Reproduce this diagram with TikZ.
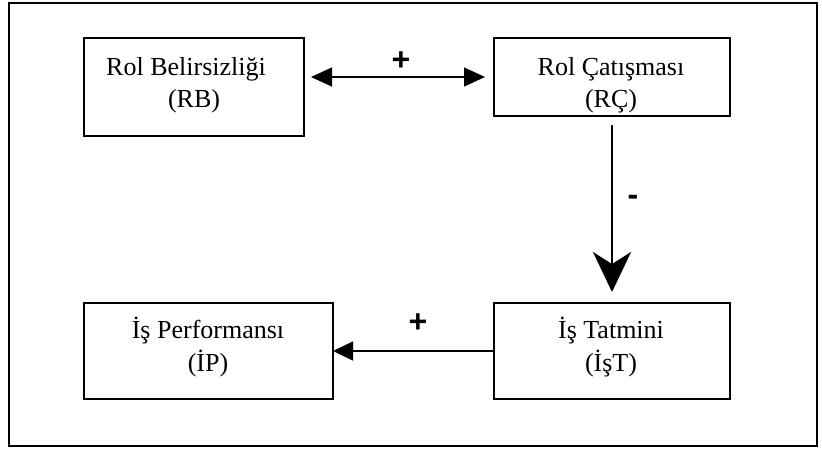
\documentclass[tikz,border=0pt]{standalone}
\usepackage{fontspec}
\setmainfont{Liberation Serif}
\newfontfamily\signfont{Liberation Sans}
\usetikzlibrary{arrows.meta}
\tikzset{
  boxnode/.style={draw, line width=1.3pt, rectangle, inner sep=0pt, outer sep=0pt},
  txt/.style={anchor=base, font=\fontsize{26}{30}\selectfont, inner sep=0pt},
  sign/.style={font=\signfont\bfseries\fontsize{32}{36}\selectfont, inner sep=0pt},
  conn/.style={line width=1.3pt}
}
\begin{document}
\begin{tikzpicture}[x=1pt,y=-1pt]
\useasboundingbox (0,0) rectangle (822,448);
\draw[line width=1.3pt] (9,3) rectangle (817,446);
% boxes
\node[boxnode, minimum width=220pt, minimum height=98pt] (rb) at (194,87) {};
\node[boxnode, minimum width=236pt, minimum height=78pt] (rc) at (612,77) {};
\node[boxnode, minimum width=249pt, minimum height=96pt] (ip) at (208.5,351) {};
\node[boxnode, minimum width=236pt, minimum height=96pt] (ist) at (612,351) {};
% texts
\node[txt] (rb1) at (186,75) {Rol Belirsizliği};
\node[txt] (rb2) at (194,107) {(RB)};
\node[txt] (rc1) at (611,75) {Rol Çatışması};
\node[txt] (rc2) at (611,107) {(RÇ)};
\node[txt] (ip1) at (208,338) {İş Performansı};
\node[txt] (ip2) at (208,371) {(İP)};
\node[txt] (ist1) at (611,338) {İş Tatmini};
\node[txt] (ist2) at (611,371) {(İşT)};
% connectors
\draw[conn, {Triangle[length=21pt,width=19pt]}-{Triangle[length=21pt,width=19pt]}, shorten <=7pt, shorten >=9pt]
  (rb.east |- rc.west) -- (rc.west);
\draw[line width=2.8pt, -{Stealth[length=40pt,width=38pt,inset=12pt]}, shorten <=9pt, shorten >=11pt]
  (rc.south) -- (ist.north);
\draw[conn, -{Triangle[length=20pt,width=19pt]}] (ist.west) -- (ip.east);
% signs
\node[sign] (p1) at (401,61) {+};
\node[sign] (m1) at (633,200) {-};
\node[sign] (p2) at (418,323) {+};
\end{tikzpicture}
\end{document}
